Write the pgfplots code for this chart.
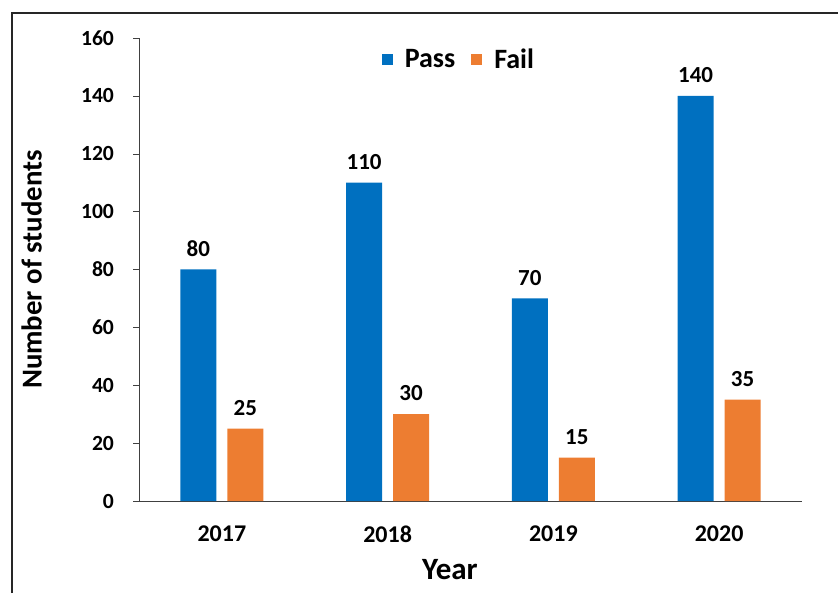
\documentclass[border=0pt]{standalone}
\usepackage{pgfplots}
\pgfplotsset{compat=1.18}
\usepackage{fontspec}
\setmainfont{Carlito}
\definecolor{passblue}{HTML}{0070C0}
\definecolor{failorange}{HTML}{ED7D31}
\pgfplotsset{
  sqlegend/.style={legend image code/.code={\fill[##1,draw=none] (0pt,-2.75pt) rectangle (5.5pt,2.75pt);}},
}
\begin{document}
\begin{tikzpicture}[x=1pt,y=1pt]
\useasboundingbox (0,0) rectangle (419,296.5);
\draw[line width=1pt, black!85] (6,0) -- (6,290) -- (419,290);
\begin{axis}[
  at={(69.5pt,46pt)}, anchor=south west,
  width=331.5pt, height=231.5pt, scale only axis,
  ybar=5.5pt, bar width=18pt,
  xmin=-0.5, xmax=3.5, ymin=0, ymax=160,
  xtick=data, xticklabels={2017,2018,2019,2020},
  ytick={0,20,...,160},
  axis lines*=left,
  axis line style={-, black!75},
  major x tick style={draw=none},
  major y tick style={black!75},
  tick align=outside, major tick length=3pt,
  /pgf/number format/assume math mode=true,
  yticklabel style={font=\bfseries\fontsize{10.8}{12}\selectfont, xshift=-6pt},
  xticklabel style={font=\bfseries\fontsize{12}{14}\selectfont, yshift=-6pt},
  xlabel={Year}, ylabel={Number of students},
  xlabel style={at={(axis description cs:0.469,-0.149)}, anchor=center, font=\bfseries\fontsize{15.5}{17}\selectfont},
  ylabel style={at={(axis description cs:-0.162,0.5)}, anchor=center, font=\bfseries\fontsize{14.4}{16}\selectfont},
  nodes near coords,
  every node near coord/.append style={font=\bfseries\fontsize{11.5}{13}\selectfont, text=black, yshift=3pt},
  legend columns=2,
  legend style={at={(0.484,0.953)}, anchor=center, draw=none, fill=none,
    font=\bfseries\fontsize{14}{16}\selectfont,
    /tikz/every odd column/.append style={column sep=4pt},
    /tikz/every even column/.append style={column sep=6pt}},
]
\addplot[fill=passblue, draw=none, sqlegend] coordinates {(0,80) (1,110) (2,70) (3,140)};
\addplot[fill=failorange, draw=none, sqlegend] coordinates {(0,25) (1,30) (2,15) (3,35)};
\legend{Pass, Fail}
\end{axis}
\end{tikzpicture}
\end{document}
